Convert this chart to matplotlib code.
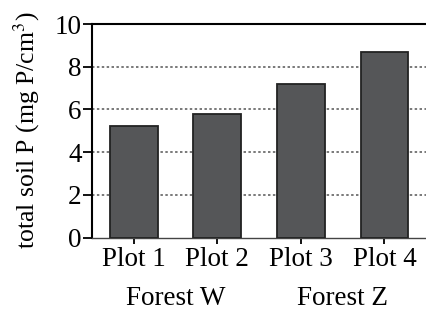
import matplotlib
matplotlib.use('Agg')
import matplotlib.pyplot as plt

# data
plots = ['Plot 1', 'Plot 2', 'Plot 3', 'Plot 4']
soil_p = [5.2, 5.8, 7.2, 8.7]
forests = ['Forest W', 'Forest Z']
forest_pos = [0.5, 2.5]

plt.rcParams['font.family'] = ['Liberation Serif', 'DejaVu Serif']
plt.rcParams['mathtext.fontset'] = 'stix'
FS = 19.5

fig = plt.figure(figsize=(4.27, 3.12), dpi=100)
ax = fig.add_axes([92 / 427, 1 - 237.5 / 312, 1 - 92 / 427 - 0.002, (237.5 - 24) / 312])

x = range(len(plots))
ax.bar(x, soil_p, width=0.57, color='#555658', edgecolor='#222222',
       linewidth=1.3, zorder=3)

for yv in (2, 4, 6, 8):
    ax.axhline(yv, color='#555555', lw=1.1, ls=(0, (1.6, 1.6)), zorder=1)

ax.set_xlim(-0.5, 3.5)
ax.set_ylim(0, 10)
ax.set_yticks([0, 2, 4, 6, 8, 10])
ax.set_xticks(list(x))
ax.set_xticklabels(plots)

ax.spines['right'].set_visible(False)
ax.spines['top'].set_linewidth(1.5)
ax.spines['left'].set_linewidth(1.5)
ax.spines['bottom'].set_linewidth(1.0)
ax.spines['bottom'].set_color('#444444')
ax.tick_params(axis='y', direction='out', length=6.5, width=1.3,
               labelsize=FS, pad=1)
ax.tick_params(axis='x', direction='out', length=4.5, width=1.3,
               labelsize=FS, pad=2)

ax.set_ylabel('total soil P (mg P/cm$^3$)', fontsize=18.5, labelpad=9)

for pos, name in zip(forest_pos, forests):
    ax.text(pos, -0.285, name, transform=ax.get_xaxis_transform(),
            ha='center', va='center', fontsize=FS)

fig.savefig('out.png', dpi=100)
